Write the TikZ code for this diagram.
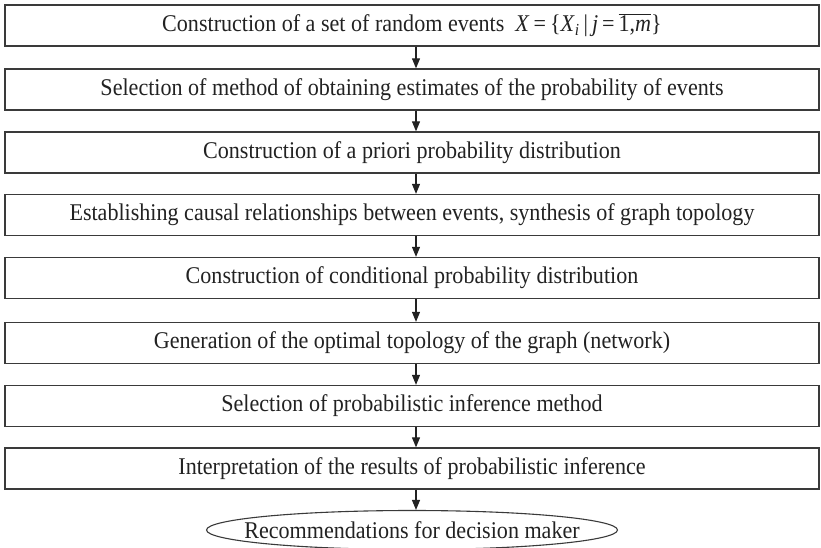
\documentclass[tikz,border=0pt]{standalone}
\usepackage{fontspec}
\setmainfont{Liberation Serif}[FakeStretch=0.92]
\usetikzlibrary{arrows.meta,positioning,shapes.geometric}
\definecolor{ink}{HTML}{222222}
\definecolor{frame}{HTML}{3A3A3A}
\tikzset{
  stagebox/.style={draw=frame, line width=1.3pt, fill=white, minimum width=814pt, minimum height=41pt, inner sep=0pt, align=center, text=ink, font=\fontsize{24}{28}\selectfont},
  endoval/.style={ellipse, draw=frame, line width=1.1pt, fill=white, minimum width=411pt, minimum height=39pt, inner sep=0pt, text=ink, font=\fontsize{24}{28}\selectfont},
  arrow/.style={-{Triangle[length=10pt,width=8pt]}, line width=1.1pt, draw=ink}
}
\begin{document}
\begin{tikzpicture}[x=1pt,y=-1pt]
\useasboundingbox (0,0) rectangle (821,548);
\node[stagebox] (s1) at (412,25.5) {Construction of a set of random events \ \textit{X}\,=\,\{\textit{X}\textsubscript{\textit{i}}\,|\,\textit{j}\,=\,\ensuremath{\overline{\hbox{1,\textit{m}}}}\}};
\node[stagebox] (s2) at (412,89.5) {Selection of method of obtaining estimates of the probability of events};
\node[stagebox] (s3) at (412,152.5) {Construction of a priori probability distribution};
\node[stagebox] (s4) at (412,215) {Establishing causal relationships between events, synthesis of graph topology};
\node[stagebox] (s5) at (412,278) {Construction of conditional probability distribution};
\node[stagebox] (s6) at (412,343) {Generation of the optimal topology of the graph (network)};
\node[stagebox] (s7) at (412,406) {Selection of probabilistic inference method};
\node[stagebox] (s8) at (412,468.5) {Interpretation of the results of probabilistic inference};
\node[endoval] (rec) at (412,530) {\makebox[260pt]{Recommendations for decision maker}};
\foreach \a/\b in {s1/s2,s2/s3,s3/s4,s4/s5,s5/s6,s6/s7,s7/s8,s8/rec}
  \draw[arrow] ([xshift=4pt]\a.south) -- ([xshift=4pt]\b.north);
\end{tikzpicture}
\end{document}
